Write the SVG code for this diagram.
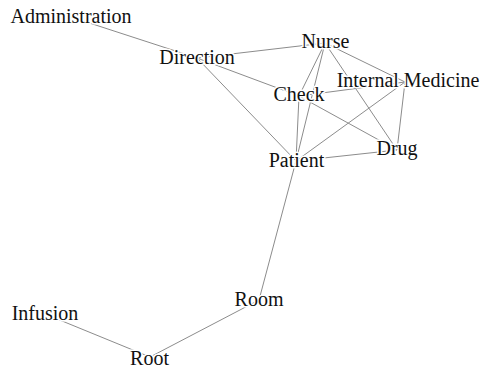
<svg xmlns="http://www.w3.org/2000/svg" width="483" height="370" viewBox="0 0 483 370">
<style>
.e{stroke:#8c8c8c;stroke-width:1;fill:none}
.l{font-family:"Liberation Serif","Times New Roman",serif;font-size:20px;fill:#111;text-anchor:middle;stroke:#fff;stroke-width:3;paint-order:stroke;stroke-linejoin:round}
</style>
<rect width="483" height="370" fill="#fff"/>
<g id="edges">
<line class="e" x1="71" y1="17" x2="197" y2="58"/>
<line class="e" x1="197" y1="58" x2="325" y2="43"/>
<line class="e" x1="197" y1="58" x2="299" y2="96"/>
<line class="e" x1="197" y1="58" x2="296" y2="161"/>
<line class="e" x1="325" y1="43" x2="299" y2="96"/>
<line class="e" x1="325" y1="43" x2="296" y2="161"/>
<line class="e" x1="325" y1="43" x2="405" y2="82"/>
<line class="e" x1="325" y1="43" x2="397" y2="150"/>
<line class="e" x1="299" y1="96" x2="405" y2="82"/>
<line class="e" x1="299" y1="96" x2="397" y2="150"/>
<line class="e" x1="299" y1="96" x2="296" y2="161"/>
<line class="e" x1="296" y1="161" x2="405" y2="82"/>
<line class="e" x1="296" y1="161" x2="397" y2="150"/>
<line class="e" x1="405" y1="82" x2="397" y2="150"/>
<line class="e" x1="296" y1="161" x2="259" y2="300"/>
<line class="e" x1="259" y1="300" x2="150" y2="357"/>
<line class="e" x1="150" y1="357" x2="45" y2="314"/>
</g>
<g id="n-administration"><text class="l" x="71" y="23">Administration</text></g>
<g id="n-direction"><text class="l" x="197" y="64">Direction</text></g>
<g id="n-nurse"><text class="l" x="325.5" y="48">Nurse</text></g>
<g id="n-internal-medicine"><text class="l" x="408" y="87">Internal Medicine</text></g>
<g id="n-check"><text class="l" x="299" y="101">Check</text></g>
<g id="n-patient"><text class="l" x="296.5" y="167">Patient</text></g>
<g id="n-drug"><text class="l" x="397" y="155">Drug</text></g>
<g id="n-room"><text class="l" x="259" y="306">Room</text></g>
<g id="n-root"><text class="l" x="149.5" y="365">Root</text></g>
<g id="n-infusion"><text class="l" x="45" y="320">Infusion</text></g>
</svg>
